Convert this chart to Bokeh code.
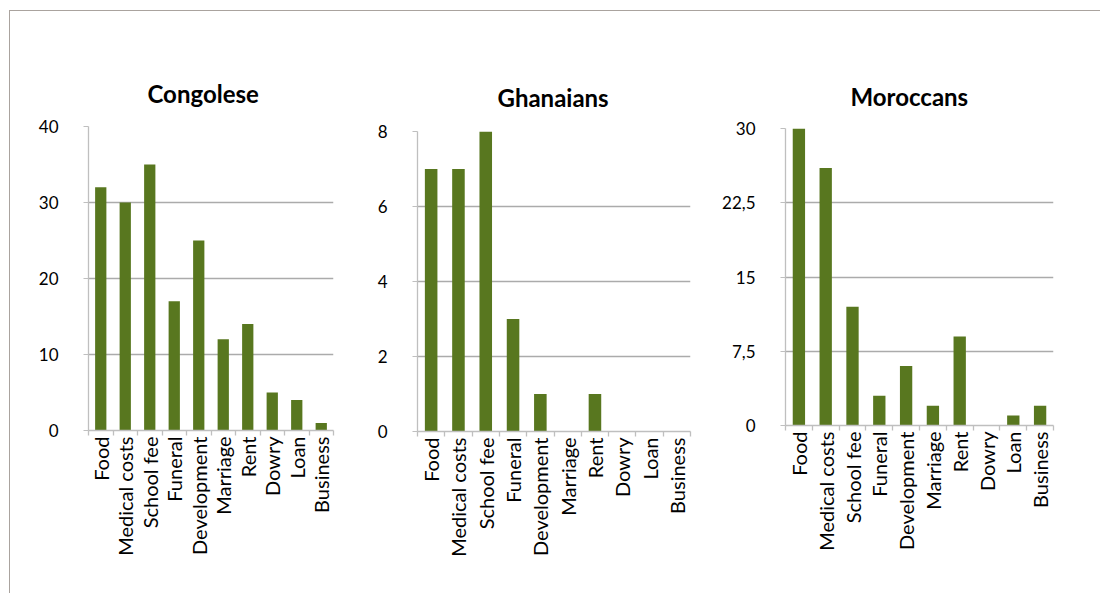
import math
from bokeh.plotting import figure
from bokeh.models import (Range1d, LinearAxis, FixedTicker, CustomJSTickFormatter, Row, Column,
                          Spacer, ColumnDataSource)
from bokeh.embed import file_html
from bokeh.resources import INLINE

categories = ["Food", "Medical costs", "School fee", "Funeral", "Development",
              "Marriage", "Rent", "Dowry", "Loan", "Business"]
congolese = [32, 30, 35, 17, 25, 12, 14, 5, 4, 1]
ghanaians = [7, 7, 8, 3, 1, 0, 1, 0, 0, 0]
moroccans = [30, 26, 12, 3, 6, 2, 9, 0, 1, 2]

titles = ["Congolese", "Ghanaians", "Moroccans"]
series = [congolese, ghanaians, moroccans]
y_max = [40, 8, 30]
y_ticks = [[0, 10, 20, 30, 40], [0, 2, 4, 6, 8], [0, 7.5, 15, 22.5, 30]]

BAR = "#58771F"
GRID = "#ababab"
AXIS = "#bfbfbf"
FONT = "Lato"

BT = 110   # top border (same for all panels)
BB = 162   # bottom border (same for all panels)
# (width, border_left, border_right, frame_h, spacer_above, title_offset, title_standoff)
geom = [
    (360, 78, 37, 304, 5, 59, 38),
    (349, 47, 29, 300, 10, 80, 40),
    (381, 66, 47, 297, 7, 65, 36),
]

n = len(categories)
centers = [i + 0.5 for i in range(n)]      # category slot centres on a 0..n axis
bounds = list(range(n + 1))                 # category slot boundaries

cols = []
for t, vals, ym, ticks, g in zip(titles, series, y_max, y_ticks, geom):
    w, bl, br, fh, sp, toff, tst = g
    p = figure(x_range=Range1d(0, n), y_range=Range1d(0, ym),
               width=w, height=BT + fh + BB,
               min_border_left=bl, min_border_right=br,
               min_border_top=BT, min_border_bottom=BB,
               x_axis_location=None,
               output_backend="svg", toolbar_location=None,
               title=t)
    p.outline_line_color = None
    p.background_fill_color = "white"
    p.border_fill_color = "white"
    p.title.text_font = FONT
    p.title.text_font_style = "bold"
    p.title.text_font_size = "24px"
    p.title.text_color = "black"
    p.title.align = "left"
    p.title.standoff = tst
    p.title.offset = toff

    src = ColumnDataSource(dict(x=centers, top=vals, cat=categories))
    p.vbar(x="x", top="top", width=0.46, bottom=0, source=src, color=BAR, line_color=None)

    # y axis
    ya = p.yaxis[0]
    ya.ticker = FixedTicker(ticks=ticks)
    ya.formatter = CustomJSTickFormatter(code="return String(tick).replace('.', ',');")
    ya.axis_line_color = AXIS
    ya.axis_line_width = 1.3
    ya.major_tick_line_color = AXIS
    ya.major_tick_out = 5
    ya.major_tick_in = 0
    ya.minor_tick_line_color = None
    ya.major_label_text_font = FONT
    ya.major_label_text_font_size = "17px"
    ya.major_label_text_color = "black"
    ya.major_label_standoff = 25
    for gr in p.grid:
        if gr.dimension == 1:
            gr.ticker = FixedTicker(ticks=ticks)
            gr.grid_line_color = GRID
            gr.grid_line_width = 1.3
        else:
            gr.grid_line_color = None

    # x axis: labels at slot centres, tick marks (minor) at slot boundaries
    xa = LinearAxis(ticker=FixedTicker(ticks=centers, minor_ticks=bounds),
                    formatter=CustomJSTickFormatter(args=dict(cats=categories),
                                                    code="return cats[Math.floor(tick)];"))
    xa.axis_line_color = AXIS
    xa.axis_line_width = 1.3
    xa.major_tick_line_color = None
    xa.major_tick_out = 5
    xa.major_tick_in = 0
    xa.minor_tick_line_color = AXIS
    xa.minor_tick_line_width = 1.3
    xa.minor_tick_out = 5
    xa.minor_tick_in = 0
    xa.major_label_orientation = math.pi / 2
    xa.major_label_text_font = FONT
    xa.major_label_text_font_size = "20px"
    xa.major_label_text_color = "black"
    xa.major_label_standoff = 1
    p.add_layout(xa, "below")

    cols.append(Column(children=[Spacer(width=w, height=sp), p], spacing=0))

layout = Row(children=cols, spacing=0, margin=(10, 0, 0, 9),
             styles={"border-left": "1px solid #aaa39e", "border-top": "1px solid #aaa39e"})

open("out.html", "w").write(file_html(layout, INLINE))
